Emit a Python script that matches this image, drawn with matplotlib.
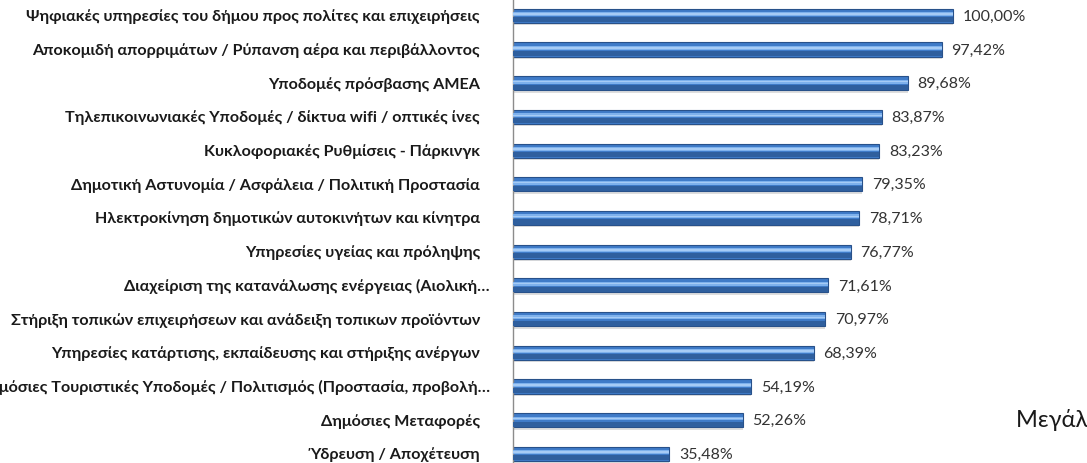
import matplotlib
matplotlib.use("Agg")
import matplotlib.pyplot as plt
import numpy as np

categories = [
    "Ψηφιακές υπηρεσίες του δήμου προς πολίτες και επιχειρήσεις",
    "Αποκομιδή απορριμάτων / Ρύπανση αέρα και περιβάλλοντος",
    "Υποδομές πρόσβασης ΑΜΕΑ",
    "Τηλεπικοινωνιακές Υποδομές / δίκτυα wifi / οπτικές ίνες",
    "Κυκλοφοριακές Ρυθμίσεις - Πάρκινγκ",
    "Δημοτική Αστυνομία / Ασφάλεια / Πολιτική Προστασία",
    "Ηλεκτροκίνηση δημοτικών αυτοκινήτων και κίνητρα",
    "Υπηρεσίες υγείας και πρόληψης",
    "Διαχείριση της κατανάλωσης ενέργειας (Αιολική…",
    "Στήριξη τοπικών επιχειρήσεων και ανάδειξη τοπικων προϊόντων",
    "Υπηρεσίες κατάρτισης, εκπαίδευσης και στήριξης ανέργων",
    "Δημόσιες Τουριστικές Υποδομές / Πολιτισμός (Προστασία, προβολή…",
    "Δημόσιες Μεταφορές",
    "Ύδρευση / Αποχέτευση",
]
values = [100.00, 97.42, 89.68, 83.87, 83.23, 79.35, 78.71, 76.77,
          71.61, 70.97, 68.39, 54.19, 52.26, 35.48]
value_labels = ["100,00%", "97,42%", "89,68%", "83,87%", "83,23%", "79,35%",
                "78,71%", "76,77%", "71,61%", "70,97%", "68,39%", "54,19%",
                "52,26%", "35,48%"]

W, H = 1087, 464
fig = plt.figure(figsize=(W / 100, H / 100), dpi=100)
ax_left = 513 / W
ax = fig.add_axes([ax_left, 0, 1 - ax_left, 1])

n = len(values)
y = np.arange(n)[::-1].astype(float)
h = 0.42

# shadow
ax.barh(y - 0.07, values, height=h, color="#c8c8c8", alpha=0.6, zorder=1)
# main bar
ax.barh(y, values, height=h, color="#3f7bc8", edgecolor="#28518a", linewidth=0.8, zorder=2)
# darker lower band
ax.barh(y - h * 0.28, values, height=h * 0.36, color="#2f5f9e", zorder=3)
# highlight band
ax.barh(y + h * 0.12, values, height=h * 0.28, color="#7eb1ec", zorder=3)
ax.barh(y + h * 0.12, values, height=h * 0.10, color="#a6cbf5", zorder=3)

xmax = (W - 513) / 440 * 100
ax.set_xlim(0, xmax)
ax.set_ylim(-0.27, n - 1 + 0.5)

for yi, v, lab in zip(y, values, value_labels):
    ax.text(v + 2.2, yi, lab, va="center", ha="left", fontsize=11.5,
            color="#333333", family="Lato")

for yi, c in zip(y, categories):
    if c.endswith("…"):
        xpos = -5.2
    else:
        xpos = -33 / 440 * 100
    ax.text(xpos, yi, c, va="center", ha="right", fontsize=11.6, fontweight="bold",
            color="#1a1a1a", family="Lato", clip_on=False)

ax.set_yticks([])
ax.set_xticks([])
for s in ["top", "right", "bottom"]:
    ax.spines[s].set_visible(False)
ax.spines["left"].set_color("#8c8c8c")
ax.spines["left"].set_linewidth(1.0)

fig.text(1016 / W, 1 - 420 / H, "Μεγάλοι Δήμοι", fontsize=17, color="#1a1a1a",
         family="Lato", va="center", ha="left")

fig.savefig("out.png", dpi=100)
